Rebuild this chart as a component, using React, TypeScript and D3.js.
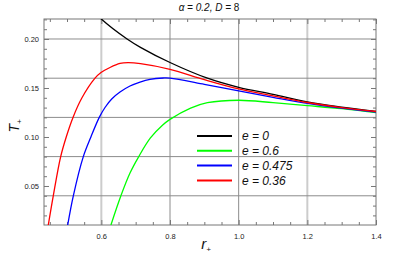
import React, { useEffect, useRef } from 'react';
import * as d3 from 'd3';

// curves: [r+, T+]
const curveE0: [number, number][] = [
  [0.59, 0.2242], [0.6, 0.2204], [0.675, 0.2], [0.714, 0.1915], [0.8, 0.176], [0.909, 0.16],
  [1.0, 0.1507], [1.1, 0.1435], [1.2, 0.1357], [1.3, 0.1305], [1.4, 0.1262],
];
const curveE06: [number, number][] = [
  [0.628, 0.0102], [0.657, 0.04], [0.6835, 0.0632], [0.709, 0.08], [0.743, 0.099], [0.778, 0.112],
  [0.8, 0.118], [0.86, 0.1295], [0.909, 0.135], [1.0, 0.1375], [1.1, 0.135], [1.2, 0.132],
  [1.3, 0.1289], [1.4, 0.1248],
];
const curveE0475: [number, number][] = [
  [0.502, 0.0102], [0.5184, 0.04], [0.5475, 0.08], [0.5699, 0.1003], [0.594, 0.12],
  [0.6107, 0.1301], [0.6302, 0.1388], [0.6544, 0.1459], [0.6835, 0.152], [0.7126, 0.1561],
  [0.7418, 0.1589], [0.7801, 0.1602], [0.8, 0.1601], [0.9, 0.1538], [1.0, 0.147],
  [1.1, 0.1405], [1.2, 0.1343], [1.3, 0.1295], [1.4, 0.1255],
];
const curveE036: [number, number][] = [
  [0.4455, 0.0102], [0.46, 0.04], [0.4816, 0.08], [0.498, 0.1003], [0.5175, 0.12], [0.5428, 0.1395],
  [0.5816, 0.16], [0.599, 0.1658], [0.6252, 0.1709], [0.6544, 0.175], [0.6777, 0.1758], [0.714, 0.1748],
  [0.8, 0.169], [0.9, 0.1585], [1.0, 0.149], [1.1, 0.142], [1.2, 0.1352], [1.3, 0.13], [1.4, 0.126],
];

const legendLabels = ['e = 0', 'e = 0.6', 'e = 0.475', 'e = 0.36'];
const seriesColors = ['#000000', '#00ff00', '#0000ff', '#ff0000'];
const xMajor = [0.6, 0.8, 1.0, 1.2, 1.4];
const yMajor = [0.05, 0.1, 0.15, 0.2];
const xGrid = [0.6, 0.8, 1.0, 1.2];
const yGrid = [0.04, 0.08, 0.12, 0.16, 0.2];

const App = () => {
  const svgRef = useRef<SVGSVGElement>(null);

  useEffect(() => {
    const svg = d3.select(svgRef.current);
    svg.selectAll('*').remove();

    const width = 415;
    const height = 260;
    const margin = { top: 19, right: 39, bottom: 35, left: 44 };
    const innerWidth = width - margin.left - margin.right;
    const innerHeight = height - margin.top - margin.bottom;

    const x = d3.scaleLinear().domain([0.433, 1.4]).range([0, innerWidth]);
    const y = d3.scaleLinear().domain([0.0102, 0.2204]).range([innerHeight, 0]);

    const g = svg.append('g').attr('transform', `translate(${margin.left},${margin.top})`);

    svg.append('defs').append('clipPath').attr('id', 'plotclip')
      .append('rect').attr('width', innerWidth).attr('height', innerHeight);

    // grid
    g.selectAll('.vgrid').data(xGrid).enter().append('line')
      .attr('x1', d => x(d)).attr('x2', d => x(d))
      .attr('y1', 0).attr('y2', innerHeight)
      .attr('stroke', (d, i) => (i === 0 || i === 3 ? '#cccccc' : '#8c8c8c'))
      .attr('stroke-width', (d, i) => (i === 0 || i === 3 ? 2 : 1));
    g.selectAll('.hgrid').data(yGrid).enter().append('line')
      .attr('x1', 0).attr('x2', innerWidth)
      .attr('y1', d => y(d)).attr('y2', d => y(d))
      .attr('stroke', '#8c8c8c').attr('stroke-width', 1);

    // minor + major ticks on all four sides, pointing inward
    const xMinor = d3.range(0.45, 1.4001, 0.05).filter(v => !xMajor.some(m => Math.abs(m - v) < 1e-6));
    const yMinor = d3.range(0.02, 0.2201, 0.01).filter(v => !yMajor.some(m => Math.abs(m - v) < 1e-6));

    const tickStyle = (sel: any) => {
      sel.select('.domain').remove();
      sel.selectAll('line').attr('stroke', '#777');
      sel.selectAll('text').attr('font-family', 'Liberation Sans, Arial, sans-serif')
        .attr('font-size', 7.5).attr('fill', '#222');
    };

    g.append('g').attr('transform', `translate(0,${innerHeight})`)
      .call(d3.axisBottom(x).tickValues(xMajor).tickSize(-5).tickPadding(9).tickFormat(d3.format('.1f')))
      .call(tickStyle);
    g.append('g').attr('transform', `translate(0,${innerHeight})`)
      .call(d3.axisBottom(x).tickValues(xMinor).tickSize(-3).tickFormat(() => ''))
      .call(tickStyle);
    g.append('g')
      .call(d3.axisTop(x).tickValues(xMajor).tickSize(-5).tickFormat(() => ''))
      .call(tickStyle);
    g.append('g')
      .call(d3.axisTop(x).tickValues(xMinor).tickSize(-3).tickFormat(() => ''))
      .call(tickStyle);
    g.append('g')
      .call(d3.axisLeft(y).tickValues(yMajor).tickSize(-5).tickPadding(5).tickFormat(d3.format('.2f')))
      .call(tickStyle);
    g.append('g')
      .call(d3.axisLeft(y).tickValues(yMinor).tickSize(-3).tickFormat(() => ''))
      .call(tickStyle);
    g.append('g').attr('transform', `translate(${innerWidth},0)`)
      .call(d3.axisRight(y).tickValues(yMajor).tickSize(-5).tickFormat(() => ''))
      .call(tickStyle);
    g.append('g').attr('transform', `translate(${innerWidth},0)`)
      .call(d3.axisRight(y).tickValues(yMinor).tickSize(-3).tickFormat(() => ''))
      .call(tickStyle);

    // frame
    g.append('rect').attr('width', innerWidth).attr('height', innerHeight)
      .attr('fill', 'none').attr('stroke', '#777').attr('stroke-width', 1);

    // curves
    const line = d3.line<[number, number]>()
      .x(d => x(d[0])).y(d => y(d[1]))
      .curve(d3.curveCatmullRom.alpha(0.5));

    const curves = [curveE0, curveE06, curveE0475, curveE036];
    const plot = g.append('g').attr('clip-path', 'url(#plotclip)');
    curves.forEach((c, i) => {
      plot.append('path').datum(c)
        .attr('d', line)
        .attr('fill', 'none')
        .attr('stroke', seriesColors[i])
        .attr('stroke-width', 1.3);
    });

    // legend
    const legend = svg.append('g').attr('transform', 'translate(197,136)');
    legendLabels.forEach((lab, i) => {
      const row = legend.append('g').attr('transform', `translate(0,${i * 14.8})`);
      row.append('line').attr('x1', 0).attr('x2', 35).attr('y1', 0).attr('y2', 0)
        .attr('stroke', seriesColors[i]).attr('stroke-width', 2);
      row.append('text').attr('x', 45).attr('y', 4.3)
        .attr('font-family', 'Liberation Sans, Arial, sans-serif')
        .attr('font-size', 12).attr('font-style', 'italic').attr('fill', '#111')
        .text(lab);
    });

    // title
    const title = svg.append('text').attr('x', 209).attr('y', 11)
      .attr('text-anchor', 'middle')
      .attr('font-family', 'Liberation Sans, Arial, sans-serif')
      .attr('font-size', 10).attr('fill', '#111');
    title.append('tspan').attr('font-style', 'italic').text('α = 0.2, D = ');
    title.append('tspan').text('8');

    // x label
    const xl = svg.append('text').attr('x', 206).attr('y', 249)
      .attr('text-anchor', 'middle')
      .attr('font-family', 'Liberation Sans, Arial, sans-serif')
      .attr('font-size', 15).attr('font-style', 'italic').attr('fill', '#111');
    xl.append('tspan').text('r');
    xl.append('tspan').attr('font-size', 8).attr('dy', 3).text('+');

    // y label
    const yl = svg.append('text')
      .attr('transform', 'translate(19,126) rotate(-90)')
      .attr('text-anchor', 'middle')
      .attr('font-family', 'Liberation Sans, Arial, sans-serif')
      .attr('font-size', 14).attr('font-style', 'italic').attr('fill', '#111');
    yl.append('tspan').text('T');
    yl.append('tspan').attr('font-size', 8).attr('dy', 3).text('+');
  }, []);

  return (
    <svg ref={svgRef} width={415} height={260}
      style={{ position: 'absolute', left: 0, top: 0, background: '#fff' }} />
  );
};

export default App;
